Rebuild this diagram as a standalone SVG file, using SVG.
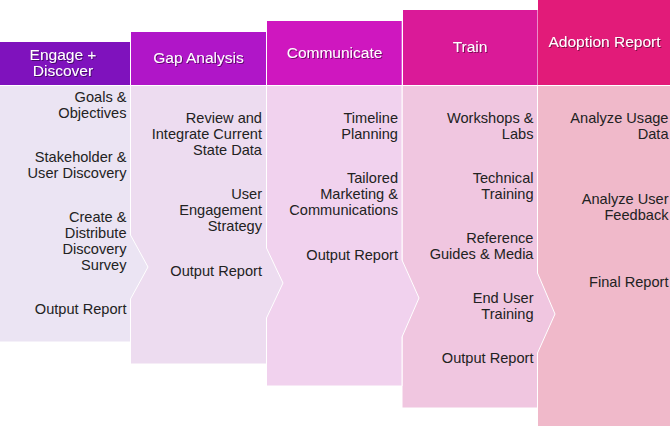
<svg xmlns="http://www.w3.org/2000/svg" width="670" height="426" viewBox="0 0 670 426">
  <defs>
    <filter id="sh" x="-10%" y="-30%" width="120%" height="160%">
      <feDropShadow dx="1" dy="1" stdDeviation="0.6" flood-color="#000" flood-opacity="0.45"/>
    </filter>
  </defs>
  <style>
    .hd { font-family: "Liberation Sans", Arial, sans-serif; font-size: 15.5px; fill: #fff; text-anchor: middle; filter: url(#sh); }
    .bt { font-family: "Liberation Sans", Arial, sans-serif; font-size: 14.6px; fill: #222; text-anchor: end; }
    .body { stroke: #fff; stroke-width: 1; }
  </style>
  <rect x="0" y="0" width="670" height="426" fill="#fff"/>

  <g id="adoption">
    <rect x="538" y="0" width="132" height="85" fill="#E21B79"/>
    <polygon class="body" points="537.5,85.5 671,85.5 671,427 537.5,427" fill="#F0B9CA"/>
    <text class="hd" x="604.5" y="47.3">Adoption Report</text>
    <text class="bt"><tspan x="668.5" y="122.7">Analyze Usage</tspan><tspan x="668.5" y="138.7">Data</tspan><tspan x="668.5" y="204.3">Analyze User</tspan><tspan x="668.5" y="220.3">Feedback</tspan><tspan x="668.5" y="286.7">Final Report</tspan></text>
  </g>

  <g id="train">
    <rect x="403" y="10" width="134.5" height="75" fill="#DA1A98"/>
    <polygon class="body" points="402,85.5 537.5,85.5 537.5,273 555,314 537.5,353 537.5,408 402,408" fill="#F0C6E0"/>
    <text class="hd" x="470" y="52.3">Train</text>
    <text class="bt"><tspan x="533.5" y="122.7">Workshops &amp;</tspan><tspan x="533.5" y="138.7">Labs</tspan><tspan x="533.5" y="182.7">Technical</tspan><tspan x="533.5" y="198.7">Training</tspan><tspan x="533.5" y="243.3">Reference</tspan><tspan x="533.5" y="259.3">Guides &amp; Media</tspan><tspan x="533.5" y="303.3">End User</tspan><tspan x="533.5" y="319.3">Training</tspan><tspan x="533.5" y="363.3">Output Report</tspan></text>
  </g>

  <g id="communicate">
    <rect x="267" y="21" width="134.7" height="64" fill="#CF17BF"/>
    <polygon class="body" points="266.5,85.5 402,85.5 402,260 419,298 402,337 402,386 266.5,386" fill="#F1D2EE"/>
    <text class="hd" x="334.5" y="57.7">Communicate</text>
    <text class="bt"><tspan x="398" y="122.7">Timeline</tspan><tspan x="398" y="138.7">Planning</tspan><tspan x="398" y="182.7">Tailored</tspan><tspan x="398" y="198.7">Marketing &amp;</tspan><tspan x="398" y="214.7">Communications</tspan><tspan x="398" y="259.5">Output Report</tspan></text>
  </g>

  <g id="gap-analysis">
    <rect x="131" y="32" width="135" height="53" fill="#B016C8"/>
    <polygon class="body" points="130.5,85.5 266.5,85.5 266.5,248 283,283 266.5,318 266.5,364 130.5,364" fill="#EDDCF0"/>
    <text class="hd" x="198.5" y="62.7">Gap Analysis</text>
    <text class="bt"><tspan x="262" y="122.7">Review and</tspan><tspan x="262" y="138.7">Integrate Current</tspan><tspan x="262" y="154.7">State Data</tspan><tspan x="262" y="199">User</tspan><tspan x="262" y="215">Engagement</tspan><tspan x="262" y="231">Strategy</tspan><tspan x="262" y="275.7">Output Report</tspan></text>
  </g>

  <g id="engage-discover">
    <rect x="0" y="42" width="130" height="43" fill="#7F12BD"/>
    <polygon class="body" points="-1,85.5 130.5,85.5 130.5,235 148,267 130.5,299 130.5,342 -1,342" fill="#EBE4F3"/>
    <text class="hd"><tspan x="63" y="60.3">Engage +</tspan><tspan x="63" y="76.2">Discover</tspan></text>
    <text class="bt"><tspan x="126.5" y="101.7">Goals &amp;</tspan><tspan x="126.5" y="117.7">Objectives</tspan><tspan x="126.5" y="161.7">Stakeholder &amp;</tspan><tspan x="126.5" y="177.7">User Discovery</tspan><tspan x="126.5" y="221.7">Create &amp;</tspan><tspan x="126.5" y="237.7">Distribute</tspan><tspan x="126.5" y="253.7">Discovery</tspan><tspan x="126.5" y="269.7">Survey</tspan><tspan x="126.5" y="314.2">Output Report</tspan></text>
  </g>
</svg>
